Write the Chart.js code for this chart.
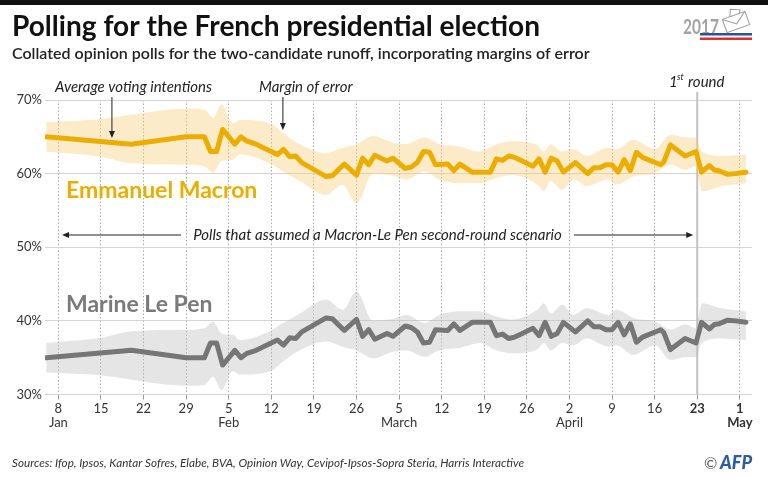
<!DOCTYPE html>
<html>
<head>
<meta charset="utf-8">
<script src="https://cdn.jsdelivr.net/npm/chart.js@4.4.1/dist/chart.umd.min.js"></script>
<style>
  html, body { margin: 0; padding: 0; background: #fff; }
  #wrap { position: relative; width: 768px; height: 479px; }
</style>
</head>
<body>
<div id="wrap"><canvas id="myChart" width="768" height="479"></canvas></div>
<script>
// Poll dates, as day of the year 2017 (1 = Jan 1)
var pollDays = [6, 20, 29, 32, 33, 34, 35, 37, 38, 39,
  40.5, 44, 45, 46, 47, 48, 52, 53, 55, 57,
  58, 59, 60, 62, 63, 65, 66, 67, 68, 69,
  70, 72, 73, 74, 76, 79, 80, 81, 82, 83,
  84, 86, 87, 88, 89, 90, 91, 93, 95, 96,
  97, 98, 99, 100, 101, 102, 103, 104, 107, 107.5,
  108.6, 111, 112.8, 113.7, 115, 115.8, 116.6, 118, 119.3, 121];

// Average voting intentions (%)
var macronValues = [65, 64, 65, 65, 63, 63, 66, 64, 65, 64.4,
  64, 62.6, 63.3, 62.3, 62.4, 61.5, 59.6, 59.7, 61.3, 59.8,
  62.1, 61.2, 62.5, 61.7, 62.1, 60.7, 60.9, 61.5, 63, 62.9,
  61.2, 61.3, 60.4, 61.3, 60.2, 60.2, 62, 61.8, 62.4, 62.2,
  61.8, 61, 62, 60.2, 62.1, 61.7, 60.2, 61.5, 60, 60.8,
  60.8, 61.2, 61.2, 60.2, 61.9, 60.4, 62.9, 62.2, 61.2, 61.6,
  63.9, 62.4, 63, 60.2, 61.1, 60.5, 60.4, 59.9, 60, 60.2];
var lePenValues = [35, 36, 35, 35, 37, 37, 34, 36, 35, 35.6,
  36, 37.4, 36.7, 37.7, 37.6, 38.5, 40.4, 40.3, 38.7, 40.2,
  37.9, 38.8, 37.5, 38.3, 37.9, 39.3, 39.1, 38.5, 37, 37.1,
  38.8, 38.7, 39.6, 38.7, 39.8, 39.8, 38, 38.2, 37.6, 37.8,
  38.2, 39, 38, 39.8, 37.9, 38.3, 39.8, 38.5, 40, 39.2,
  39.2, 38.8, 38.8, 39.8, 38.1, 39.6, 37.1, 37.8, 38.8, 38.4,
  36.1, 37.6, 37, 39.8, 38.9, 39.5, 39.6, 40.1, 40, 39.8];

// Margin of error envelope (%)
var bandDays = [6, 15, 20, 29, 32, 33.4, 34.8, 36.7, 37.8, 43.2,
  44.5, 47.7, 52, 54.7, 57, 59.7, 63, 65.2, 68.2, 70.6,
  73.9, 77.2, 80, 82.5, 86.7, 87.8, 88.9, 90.8, 92.7, 94.8,
  98.4, 99.7, 102.5, 106.1, 108.6, 111.1, 112.7, 113.8, 117, 121];
var macronHigh = [67, 67.4, 68, 68.8, 68.7, 67.6, 69.4, 66.8, 67.3, 66.7,
  65.8, 64, 62.8, 63.5, 64, 65.1, 64.2, 64, 64.9, 64,
  63.7, 63, 64, 64.4, 63.9, 63, 64, 63, 63.3, 62.4,
  63.5, 63.3, 64.6, 63.3, 65.3, 64.9, 64.9, 63, 62.4, 62.6];
var macronLow = [63, 62.3, 61.4, 61.2, 61, 60.1, 61.7, 61.9, 62.6, 61.2,
  60.5, 59, 57.1, 58.5, 56, 60, 59.7, 59.2, 60.3, 59.2,
  58.7, 58.7, 59.4, 59.8, 58.5, 57.6, 59, 57.8, 59.2, 58.3,
  59.2, 58.5, 59.6, 60.1, 61.2, 60.5, 61, 57.6, 58.3, 58.7];
var lePenHigh = [37, 37.7, 38.6, 38.8, 39, 39.9, 38.3, 38.1, 37.4, 38.8,
  39.5, 41, 42.9, 41.5, 44, 40, 40.3, 40.8, 39.7, 40.8,
  41.3, 41.3, 40.6, 40.2, 41.5, 42.4, 41, 42.2, 40.8, 41.7,
  40.8, 41.5, 40.4, 39.9, 38.8, 39.5, 39, 42.4, 41.7, 41.3];
var lePenLow = [33, 32.6, 32, 31.2, 31.3, 32.4, 30.6, 33.2, 32.7, 33.3,
  34.2, 36, 37.2, 36.5, 36, 34.9, 35.8, 36, 35.1, 36,
  36.3, 37, 36, 35.6, 36.1, 37, 36, 37, 36.7, 37.6,
  36.5, 36.7, 35.4, 36.7, 34.7, 35.1, 35.1, 37, 37.6, 37.4];

// Axis ticks
var tickDays = [8, 15, 22, 29, 36, 43, 50, 57, 64, 71, 78, 85, 92, 99, 106, 113, 120];
var tickNumbers = ["8", "15", "22", "29", "5", "12", "19", "26", "5", "12", "19", "26", "2", "9", "16", "23", "1"];
var tickMonths = ["Jan", "", "", "", "Feb", "", "", "", "March", "", "", "", "April", "", "", "", "May"];
var yTicks = [30, 40, 50, 60, 70];
var firstRoundDay = 113;

var FONT = "Lato, 'Open Sans', sans-serif";
var ctx;
var myChart;

function toPoints(xs, ys) {
  return xs.map(function (x, i) { return { x: x, y: ys[i] }; });
}

function drawText(c, s, x, y, font, color, align, maxW) {
  c.font = font;
  c.fillStyle = color;
  c.textAlign = align || "left";
  c.textBaseline = "alphabetic";
  if (maxW) c.fillText(s, x, y, maxW); else c.fillText(s, x, y);
}

function arrow(c, x1, y1, x2, y2) {
  var a = Math.atan2(y2 - y1, x2 - x1);
  c.strokeStyle = "#222";
  c.fillStyle = "#222";
  c.lineWidth = 1;
  c.beginPath();
  c.moveTo(x1, y1);
  c.lineTo(x2 - 5 * Math.cos(a), y2 - 5 * Math.sin(a));
  c.stroke();
  c.beginPath();
  c.moveTo(x2, y2);
  c.lineTo(x2 - 7 * Math.cos(a) + 3 * Math.sin(a), y2 - 7 * Math.sin(a) - 3 * Math.cos(a));
  c.lineTo(x2 - 7 * Math.cos(a) - 3 * Math.sin(a), y2 - 7 * Math.sin(a) + 3 * Math.cos(a));
  c.closePath();
  c.fill();
}

// Extra drawing: first round marker, titles, notes, logo
var decorPlugin = {
  id: "decor",
  beforeDatasetsDraw: function (chart) {
    var c = chart.ctx;
    var x = chart.scales.x.getPixelForValue(firstRoundDay);
    c.save();
    c.strokeStyle = "#c2c2c2";
    c.lineWidth = 2;
    c.beginPath();
    c.moveTo(x, 92);
    c.lineTo(x, chart.chartArea.bottom);
    c.stroke();
    c.restore();
  },
  afterDraw: function (chart) {
    var c = chart.ctx;
    var xs = chart.scales.x;
    c.save();
    // top bar
    c.fillStyle = "#111";
    c.fillRect(0, 0, 768, 5);

    drawText(c, "Polling for the French presidential election", 12, 36, "bold 29px " + FONT, "#111", "left", 528);
    drawText(c, "Collated opinion polls for the two-candidate runoff, incorporating margins of error", 12, 59, "600 16px " + FONT, "#222", "left", 594);

    // 2017 logo
    drawText(c, "2017", 683, 34, "bold 20px " + FONT, "#a3a3a3", "left", 36);
    c.fillStyle = "#2d4f9e";
    c.fillRect(700, 33, 52, 2.5);
    c.fillStyle = "#d8322f";
    c.fillRect(700, 37.5, 52, 2.5);
    c.save();
    c.translate(736, 22);
    c.rotate(-0.35);
    c.strokeStyle = "#9a9a9a";
    c.lineWidth = 1;
    c.strokeRect(-12, -7, 24, 14);
    c.beginPath();
    c.moveTo(-12, -7); c.lineTo(0, 2); c.lineTo(12, -7);
    c.moveTo(-4, -7); c.lineTo(-1, -14); c.lineTo(8, -10); c.lineTo(6, -7);
    c.stroke();
    c.restore();

    // annotations
    var noteFont = "italic 15px " + FONT;
    drawText(c, "Average voting intentions", 55, 92, noteFont, "#222", "left", 166);
    arrow(c, xs.getPixelForValue(16.8), 97, xs.getPixelForValue(16.8), 138);
    drawText(c, "Margin of error", 259, 92, noteFont, "#222", "left", 97);
    arrow(c, xs.getPixelForValue(44.9), 97, xs.getPixelForValue(44.9), 130);

    drawText(c, "1", 669, 87, noteFont, "#222", "left");
    drawText(c, "st", 677, 80, "italic 9px " + FONT, "#222", "left");
    drawText(c, "round", 688, 87, noteFont, "#222", "left", 39);

    drawText(c, "Polls that assumed a Macron-Le Pen second-round scenario", 377.5, 240, noteFont, "#222", "center", 386);
    arrow(c, 181, 235, xs.getPixelForValue(8.6), 235);
    arrow(c, 574, 235, xs.getPixelForValue(firstRoundDay) - 4, 235);

    drawText(c, "Emmanuel Macron", 66, 198, "bold 23px " + FONT, "#ebae00", "left", 196);
    drawText(c, "Marine Le Pen", 66, 312, "bold 23px " + FONT, "#7a7a7a", "left", 147);

    // footer
    drawText(c, "Sources: Ifop, Ipsos, Kantar Sofres, Elabe, BVA, Opinion Way, Cevipof-Ipsos-Sopra Steria, Harris Interactive", 12, 467, "italic 12px " + FONT, "#333", "left", 512);
    drawText(c, "\u00a9", 704, 469, "16px " + FONT, "#555", "left");
    drawText(c, "AFP", 720, 469, "italic 900 18px " + FONT, "#2a5caa", "left", 35);
    c.restore();
  }
};

window.addEventListener("load", onLoad);

function onLoad() {
  ctx = document.getElementById("myChart").getContext("2d");
  myChart = new Chart(ctx, {
    type: "line",
    data: {
      datasets: [
        { label: "Emmanuel Macron", data: toPoints(pollDays, macronValues), borderColor: "#ebae00", borderWidth: 5,
          pointRadius: 0, fill: false, order: 0, borderJoinStyle: "round", borderCapStyle: "round" },
        { label: "Marine Le Pen", data: toPoints(pollDays, lePenValues), borderColor: "#767676", borderWidth: 5,
          pointRadius: 0, fill: false, order: 0, borderJoinStyle: "round", borderCapStyle: "round" },
        { label: "Macron high", data: toPoints(bandDays, macronHigh), borderColor: "transparent", pointRadius: 0,
          fill: "+1", backgroundColor: "rgba(248, 205, 120, 0.4)", order: 1, cubicInterpolationMode: "monotone" },
        { label: "Macron low", data: toPoints(bandDays, macronLow), borderColor: "transparent", pointRadius: 0,
          fill: false, order: 1, cubicInterpolationMode: "monotone" },
        { label: "Le Pen high", data: toPoints(bandDays, lePenHigh), borderColor: "transparent", pointRadius: 0,
          fill: "+1", backgroundColor: "rgba(190, 190, 190, 0.4)", order: 1, cubicInterpolationMode: "monotone" },
        { label: "Le Pen low", data: toPoints(bandDays, lePenLow), borderColor: "transparent", pointRadius: 0,
          fill: false, order: 1, cubicInterpolationMode: "monotone" }
      ]
    },
    options: {
      responsive: false,
      animation: false,
      layout: { padding: { left: 0, right: 16, top: 100, bottom: 44.5 } },
      plugins: {
        legend: { display: false },
        tooltip: { enabled: false }
      },
      scales: {
        x: {
          type: "linear",
          min: 5.8,
          max: 122,
          afterBuildTicks: function (s) { s.ticks = tickDays.map(function (v) { return { value: v }; }); },
          afterFit: function (s) { s.height = 40; },
          ticks: {
            autoSkip: false,
            maxRotation: 0,
            padding: 2,
            color: "#333",
            font: function (c) {
              var bold = c.tick && c.tick.value >= firstRoundDay;
              return { family: FONT, size: 13, weight: bold ? "bold" : "normal", lineHeight: 1.1 };
            },
            callback: function (v, i) { return [tickNumbers[i], tickMonths[i]]; }
          },
          grid: { color: "#aaa", lineWidth: 1, tickLength: 5, tickColor: "#999", tickBorderDash: [] },
          border: { display: false, dash: [1.5, 2] }
        },
        y: {
          min: 30,
          max: 70,
          afterBuildTicks: function (s) { s.ticks = yTicks.map(function (v) { return { value: v }; }); },
          afterFit: function (s) { s.width = 45; },
          ticks: {
            padding: 3,
            color: "#333",
            font: { family: FONT, size: 13 },
            callback: function (v) { return v + "%"; }
          },
          grid: { color: "#d4d4d4", lineWidth: 1, drawTicks: false },
          border: { display: false }
        }
      }
    },
    plugins: [decorPlugin]
  });
}
</script>
</body>
</html>
